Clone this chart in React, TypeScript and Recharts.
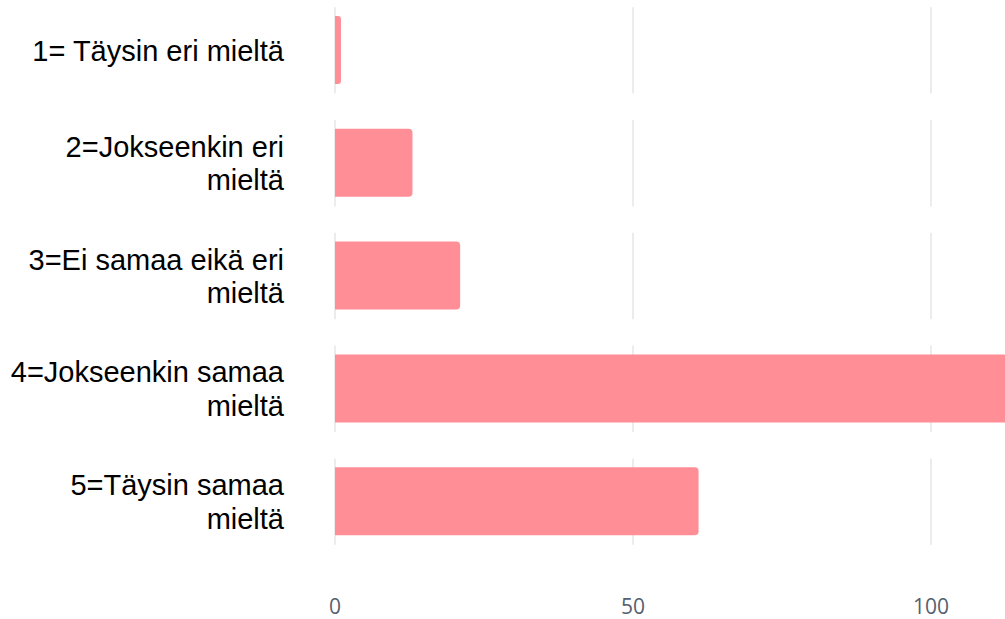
import { Bar, BarChart, CartesianGrid, XAxis, YAxis } from "recharts";

// Survey answers (Likert scale), counts per option
const CATEGORIES = [
  "1= Täysin eri mieltä",
  "2=Jokseenkin eri mieltä",
  "3=Ei samaa eikä eri mieltä",
  "4=Jokseenkin samaa mieltä",
  "5=Täysin samaa mieltä",
];
const COUNTS = [1, 13, 21, 115, 61];
const X_TICKS = [0, 50, 100];

const BAR = "#ff8e96";
const GRID = "#e6e6e6";
const TICK = "#56616c";

const LABEL_FONT = "'Liberation Sans', Arial, sans-serif";
const LABEL_SIZE = 29;
const LABEL_WIDTH = 285;
const LINE_HEIGHT = 33.5;

const data = CATEGORIES.map((name, i) => ({ name, count: COUNTS[i] }));

let ctx: CanvasRenderingContext2D | null = null;
function wrap(text: string): string[] {
  if (!ctx) ctx = document.createElement("canvas").getContext("2d");
  if (!ctx) return [text];
  ctx.font = `${LABEL_SIZE}px ${LABEL_FONT}`;
  const lines: string[] = [];
  let cur = "";
  for (const w of text.split(" ")) {
    const next = cur ? `${cur} ${w}` : w;
    if (cur && ctx.measureText(next).width > LABEL_WIDTH) {
      lines.push(cur);
      cur = w;
    } else {
      cur = next;
    }
  }
  if (cur) lines.push(cur);
  return lines;
}

function CategoryTick(props: any) {
  const { x, y, payload } = props;
  const lines = wrap(String(payload.value));
  const first = -((lines.length - 1) * LINE_HEIGHT) / 2;
  return (
    <text
      x={x}
      y={y}
      textAnchor="end"
      fill="#000"
      style={{ fontFamily: LABEL_FONT, fontSize: LABEL_SIZE }}
    >
      {lines.map((line, i) => (
        <tspan key={i} x={x} dy={i === 0 ? first + LABEL_SIZE * 0.355 : LINE_HEIGHT}>
          {line}
        </tspan>
      ))}
    </text>
  );
}

export default function App() {
  return (
    <div
      style={{
        position: "absolute",
        left: 0,
        top: 0,
        width: 1005,
        height: 619,
        overflow: "hidden",
        background: "#fff",
      }}
    >
      <div style={{ position: "absolute", left: 0, top: -6 }}>
        <BarChart
          width={1240}
          height={628}
          data={data}
          layout="vertical"
          margin={{ top: 0, right: 11, bottom: 0, left: 0 }}
          barCategoryGap={0}
        >
          {/* vertical grid broken into one segment per category band */}
          <CartesianGrid
            horizontal={false}
            stroke={GRID}
            strokeWidth={1.5}
            strokeDasharray="0 13.2 86.4 13.2"
          />
          <XAxis
            type="number"
            domain={[0, 150]}
            ticks={X_TICKS}
            axisLine={false}
            tickLine={false}
            tickMargin={35}
            height={64}
            tick={{ fill: TICK, fontSize: 21, fontFamily: "'Open Sans', sans-serif" }}
          />
          <YAxis
            type="category"
            dataKey="name"
            width={335}
            axisLine={false}
            tickLine={false}
            tickSize={0}
            tickMargin={51}
            tick={<CategoryTick />}
          />
          <Bar
            dataKey="count"
            fill={BAR}
            barSize={68}
            radius={[0, 4, 4, 0]}
            isAnimationActive={false}
          />
        </BarChart>
      </div>
    </div>
  );
}
